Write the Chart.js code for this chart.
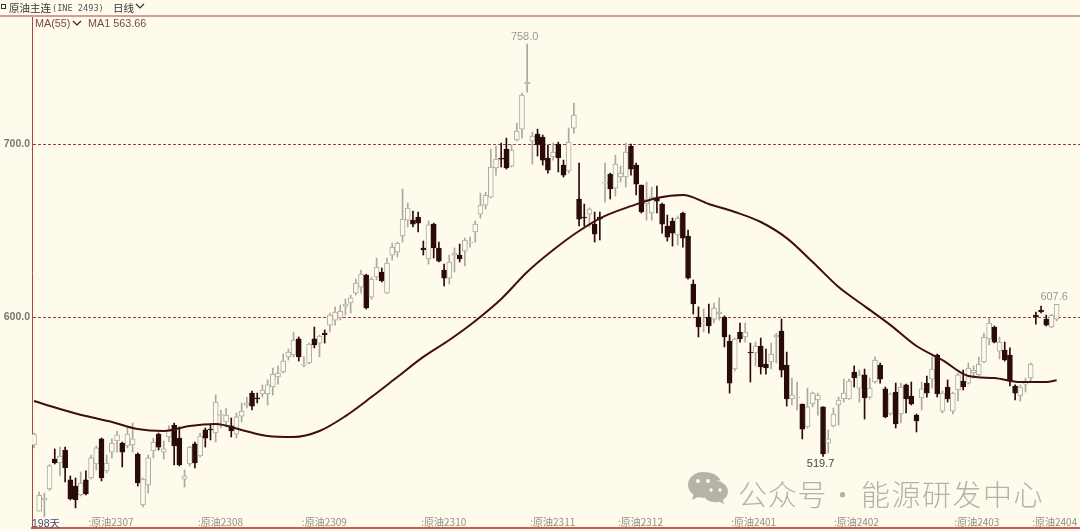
<!DOCTYPE html>
<html>
<head>
<meta charset="utf-8">
<style>
html,body{margin:0;padding:0;background:#fffbec;overflow:hidden}
#wrap{position:relative;width:1080px;height:531px}
#chart{position:absolute;left:0;top:0}
.t{position:absolute;white-space:pre;line-height:1}
</style>
<script src="https://cdn.jsdelivr.net/npm/chart.js@4"></script>
</head>
<body>
<div id="wrap">
<canvas id="chart" width="1080" height="531"></canvas>
<div style="position:absolute;left:0;top:15px;width:1080px;height:2px;background:#cf9f90"></div>
<div style="position:absolute;left:1px;top:4px;width:3px;height:3px;border:1px solid #333"></div>
<div class="t" style="left:9px;top:0px;font:10.5px 'Noto Sans CJK SC';color:#333">原油主连</div>
<div class="t" style="left:52px;top:3px;font:8.6px 'DejaVu Sans Mono';color:#555">(INE 2493)</div>
<div class="t" style="left:113px;top:0px;font:10.5px 'Noto Sans CJK SC';color:#333">日线</div>
<svg style="position:absolute;left:135px;top:3px" width="10" height="7"><polyline points="1,1 5,5 9,1" fill="none" stroke="#333" stroke-width="1.2"/></svg>
<div class="t" style="left:35px;top:17px;font:10.8px 'Liberation Sans';color:#7a4a46">MA(55)</div>
<svg style="position:absolute;left:72px;top:20px" width="10" height="7"><polyline points="1,1 5,5 9,1" fill="none" stroke="#4a1a18" stroke-width="1.2"/></svg>
<div class="t" style="left:88px;top:17px;font:10.8px 'Liberation Sans';color:#7a4a46">MA1 563.66</div>
<div class="t" style="left:32px;top:515px;font:10.5px 'Liberation Sans','Noto Sans CJK SC';color:#4a4a72">198天</div>
<svg style="position:absolute;left:687px;top:471px" width="42" height="34" viewBox="0 0 42 34">
<path d="M16 1C7.500 1 1 6.800 1 14c0 4 2.200 7.500 5.500 9.800L5 29l5.700-3c1.600.5 3.400.8 5.300.8.500 0 1 0 1.500-.1-.4-1.300-.6-2.600-.6-4 0-7.500 7-13.300 15.500-13.300.4 0 .8 0 1.200.1C31.700 4.500 24.500 1 16 1z" fill="#b3b3a8"/>
<path d="M41 22.500c0-6-6-10.800-12.800-10.800S15.400 16.500 15.400 22.500 21.400 33.300 28.200 33.300c1.500 0 2.900-.2 4.200-.6l4.700 2.300-1.200-4.200c3.100-2 5.100-4.900 5.100-8.300z" fill="#b3b3a8" transform="translate(0,-2)"/>
<circle cx="11" cy="10" r="2" fill="#fffbec"/><circle cx="21" cy="10" r="2" fill="#fffbec"/>
<circle cx="24" cy="19" r="1.700" fill="#fffbec"/><circle cx="33" cy="19" r="1.700" fill="#fffbec"/>
</svg>
<div class="t" style="left:738px;top:472px;font:300 29px 'Noto Sans CJK SC';letter-spacing:.8px;color:#b3b3a8">公众号</div>
<div class="t" style="left:828px;top:472px;font:300 29px 'Noto Sans CJK SC';color:#b3b3a8">·</div>
<div class="t" style="left:861px;top:472px;font:300 29px 'Noto Sans CJK SC';letter-spacing:1.5px;color:#b3b3a8">能源研发中心</div>
</div>
<script>
var opens = [526.3,488.1,494.5,500.9,518.2,515.9,523.4,506.1,502.6,497.4,506.1,507.2,515.3,529.8,511.3,522.2,528.6,527.4,525.7,526.3,
521.1,491.6,503.2,522.8,532.6,522.2,530.9,537.8,530.3,506.6,515.3,526.9,519.9,535.0,535.5,533.2,543.6,539.6,537.3,532.6,
543.0,549.4,556.3,553.5,555.8,555.8,559.8,565.6,568.5,577.2,578.3,587.6,572.5,573.7,587.6,585.2,591.0,595.6,598.5,599.7,
606.6,608.4,614.1,617.6,624.5,611.8,623.4,626.3,614.1,636.1,637.8,647.1,656.3,656.3,658.1,640.2,633.8,654.0,640.2,627.4,
622.8,636.1,636.1,638.4,643.0,649.4,659.8,665.0,669.6,686.4,692.2,697.4,687.5,702.6,708.9,735.0,702.0,706.0,704.3,692.2,
692.8,700.3,688.1,684.7,709.5,668.5,658.1,659.8,654.0,658.1,677.7,682.9,674.8,681.2,681.2,699.1,688.1,676.6,665.6,660.4,
669.1,665.6,652.9,655.8,647.7,660.4,647.1,619.3,600.3,596.2,600.3,599.1,602.0,600.3,586.4,570.2,591.6,588.7,580.0,579.5,
583.5,573.1,574.3,588.7,592.2,572.5,552.9,553.5,550.0,536.7,550.0,552.3,548.3,527.4,537.3,549.4,552.9,552.9,568.5,559.2,
566.8,554.0,562.7,572.5,558.7,544.2,556.9,544.2,561.0,554.6,543.6,553.5,562.1,564.4,578.3,545.9,559.8,545.9,558.1,563.3,
562.1,567.9,566.8,574.3,587.6,594.5,580.6,581.2,578.3,560.4,554.6,561.5,565.0,601.4,604.3,599.1,594.5,599.1];
var closes = [532.6,497.4,495.7,514.2,515.9,519.9,513.0,495.1,494.5,504.3,498.0,518.8,524.6,507.2,515.9,527.4,532.1,522.2,532.6,529.8,
504.3,506.6,518.8,528.0,525.1,524.0,534.4,525.7,514.7,508.4,525.1,515.9,531.5,530.3,535.0,551.1,544.2,543.6,534.4,542.5,
545.9,550.6,548.8,552.9,558.1,561.0,567.3,567.9,574.8,580.0,587.0,577.2,573.1,584.7,584.1,589.3,589.9,601.4,603.2,603.7,
607.8,611.3,619.9,625.1,605.5,622.2,629.2,621.1,631.5,640.7,643.0,656.9,663.3,654.0,654.6,639.0,653.5,640.2,632.6,622.8,
632.1,637.3,633.8,644.8,643.6,654.0,665.0,670.8,687.0,691.6,691.6,686.4,696.8,707.8,728.6,736.1,704.9,699.7,691.0,685.2,
695.6,692.2,682.3,701.4,717.0,656.9,657.5,662.7,648.2,656.9,678.3,674.3,688.7,683.5,695.6,685.8,677.1,661.0,668.5,669.6,
667.3,654.0,646.5,648.8,657.5,645.9,622.8,607.8,594.5,596.8,595.1,605.5,603.2,588.7,562.1,587.6,587.6,591.6,579.5,583.5,
571.4,570.8,578.9,589.9,569.6,552.9,555.2,554.0,535.5,548.3,556.3,555.2,521.1,529.8,544.2,552.3,556.3,563.3,565.0,566.8,
553.5,559.2,575.4,564.4,542.5,555.8,538.4,559.8,552.9,550.0,540.2,558.7,556.3,570.2,555.8,556.3,552.9,556.3,566.8,559.8,
570.8,569.6,573.1,588.7,596.8,585.8,585.8,575.4,563.3,556.3,559.8,562.1,573.1,600.3,603.2,595.6,601.4,607.6];
var highs = [533.2,499.1,498.5,515.0,524.0,525.1,525.1,508.4,507.2,510.7,511.3,520.5,525.7,530.3,520.5,529.8,534.4,528.0,536.7,539.0,
521.7,507.2,520.5,530.3,533.2,528.6,537.3,539.0,536.7,511.8,525.6,528.0,533.2,536.1,537.8,555.2,546.5,547.7,541.9,544.8,
550.6,554.0,557.5,556.3,561.0,563.9,570.8,572.0,578.9,581.8,591.6,588.7,577.2,585.2,594.5,589.9,592.8,602.6,606.1,607.2,
610.7,613.0,622.2,627.4,625.0,623.4,634.4,628.6,634.4,643.0,643.6,674.3,666.2,661.5,661.0,644.2,655.8,654.6,643.6,630.9,
636.1,640.2,642.5,645.9,646.5,655.8,671.9,672.5,697.4,699.1,700.8,703.7,699.7,712.4,729.7,758.0,707.2,708.9,705.5,699.7,
700.8,701.4,691.0,709.5,724.0,689.3,665.6,663.3,661.0,661.0,689.3,683.5,693.9,687.5,700.8,700.3,689.3,676.6,678.3,675.4,
676.0,666.2,659.2,657.5,658.7,661.0,650.6,621.7,606.1,604.9,607.8,608.4,611.3,600.9,589.9,588.1,596.8,596.8,585.2,585.8,
588.1,581.8,585.2,591.0,599.1,580.0,565.0,562.7,550.0,559.2,556.9,556.3,548.3,535.0,547.7,554.0,564.4,564.4,572.0,569.6,
570.2,565.0,577.2,573.7,559.8,556.3,562.1,562.1,561.5,562.7,544.2,562.7,566.2,577.2,578.9,557.5,563.9,556.9,567.9,569.6,
573.7,572.0,577.2,591.0,599.7,595.1,588.7,585.8,582.4,561.0,561.0,565.0,573.7,603.2,606.6,601.4,601.9,607.6];
var lows = [524.6,488.1,484.7,500.0,515.3,508.4,504.9,494.5,489.9,496.8,497.4,506.6,511.8,505.5,510.1,518.8,522.2,513.6,524.6,522.2,
502.6,490.5,498.5,518.8,523.4,518.2,528.0,514.7,514.2,502.0,514.2,513.0,519.4,525.1,529.2,528.0,536.1,536.7,530.9,530.3,
539.6,547.7,546.5,550.6,554.0,549.4,555.2,561.5,567.9,575.4,577.2,574.8,571.4,573.1,582.4,577.2,585.2,591.6,595.6,598.5,
601.4,602.6,613.0,614.1,604.9,610.7,621.7,620.5,613.8,633.2,635.0,643.6,652.3,652.3,649.4,636.1,630.9,634.4,632.1,618.2,
619.3,626.3,632.1,629.8,640.7,643.6,657.5,662.7,669.1,682.3,687.0,685.8,687.0,702.0,703.7,730.3,688.7,693.3,688.1,683.5,
691.0,684.1,681.2,683.5,706.6,652.9,652.9,652.3,643.6,644.8,666.7,668.5,670.2,678.3,675.4,682.3,670.8,660.4,656.3,656.3,
660.4,648.8,644.2,641.3,641.9,640.7,622.2,602.0,588.7,591.6,591.0,596.8,598.5,583.0,556.3,569.1,585.8,585.8,562.7,571.9,
567.3,567.3,570.2,573.7,565.6,548.8,549.4,546.5,529.8,536.1,548.3,543.6,519.7,521.7,536.7,537.8,551.1,552.6,559.8,551.1,
541.3,552.9,562.1,562.1,542.0,543.6,536.1,539.0,544.8,549.4,533.8,546.5,554.0,559.2,554.0,544.8,551.1,544.2,551.7,558.1,
561.5,565.0,566.3,573.7,584.1,585.3,576.0,574.8,560.4,552.3,551.7,556.9,563.3,596.2,602.6,595.1,594.0,598.0];
// MA55 at every fifth session
var maSessions = [0,5,10,15,20,25,30,35,40,45,50,55,60,65,70,75,80,85,90,95,100,105,110,115,120,125,130,135,140,145,150,155,160,165,170,175,180,185,190,195,197];
var maValues = [551.7,547.1,543.0,539.6,535.5,534.4,537.3,538.4,535.0,531.5,530.9,534.4,543.0,554.0,565.6,577.2,587.0,598.0,610.7,626.3,639.0,650.0,658.7,664.4,669.1,670.8,665.6,661.0,655.2,645.9,632.1,617.6,606.6,595.6,583.5,575.4,566.2,565.0,562.7,562.7,563.66];
var monthTicks = [10.5,31.6,51.6,74.6,95.6,112.5,134.3,154.1,177.3,192.3];
var monthLabels = [':原油2307',':原油2308',':原油2309',':原油2310',':原油2311',':原油2312',':原油2401',':原油2402',':原油2403',':原油2404'];
var priceTicks = [600,700];
var peakSessions = [95,152,197];

var upLine = '#a9a99e', upFill = '#fffbec', downFill = '#2b0a0a';
var isUp = function(i) { return closes[i] >= opens[i]; };

var chartText = {
	id: 'chartText',
	// the axis clips its own labels to its 3px box, so the month labels go here
	beforeDatasetsDraw: function(c) {
		var ctx = c.ctx, x = c.scales.x;
		ctx.save();
		ctx.font = "10px 'Noto Sans CJK SC'";
		ctx.fillStyle = '#8f8f86';
		ctx.textAlign = 'left';
		ctx.textBaseline = 'middle';
		monthTicks.forEach(function(t, i) {
			ctx.fillText(monthLabels[i], x.getPixelForValue(t), x.top - 6);
		});
		ctx.restore();
	},
	afterDatasetsDraw: function(c) {
		var ctx = c.ctx, x = c.scales.x, y = c.scales.y;
		ctx.save();
		ctx.font = "11px 'Liberation Sans'";
		ctx.textAlign = 'center';
		ctx.textBaseline = 'middle';
		peakSessions.forEach(function(s, n) {
			var low = n == 1;
			ctx.fillStyle = low ? '#444444' : '#999990';
			var v = low ? lows[s] : highs[s];
			ctx.fillText(v.toFixed(1), x.getPixelForValue(s) - 2.5, y.getPixelForValue(v) + (low ? 8 : -7));
		});
		ctx.restore();
	}
};

new Chart(document.getElementById('chart'), {
	type: 'bar',
	data: {
		datasets: [{
			type: 'line',
			order: 0,
			data: maSessions.map(function(s, i) { return {x: s, y: maValues[i]}; }),
			borderColor: '#3f0f0f',
			borderWidth: 2,
			pointRadius: 0,
			cubicInterpolationMode: 'monotone'
		}, {
			order: 1,
			data: opens.map(function(o, i) { return {x: i, y: [o, closes[i]]}; }),
			barThickness: 5,
			borderWidth: 1,
			borderSkipped: false,
			backgroundColor: opens.map(function(o, i) { return isUp(i) ? upFill : downFill; }),
			borderColor: opens.map(function(o, i) { return isUp(i) ? upLine : downFill; })
		}, {
			order: 2,
			data: lows.map(function(l, i) { return {x: i, y: [l, highs[i]]}; }),
			barThickness: 1,
			backgroundColor: opens.map(function(o, i) { return isUp(i) ? upLine : downFill; })
		}]
	},
	options: {
		responsive: false,
		animation: false,
		layout: {padding: {top: 16}},
		datasets: {bar: {grouped: false}},
		plugins: {legend: {display: false}, tooltip: {enabled: false}},
		scales: {
			x: {
				type: 'linear',
				offset: false,
				min: -0.385,
				max: 201.5,
				grid: {display: false, drawTicks: false},
				border: {display: true, color: '#c4604f', width: 2},
				afterFit: function(s) { s.height = 3; s.paddingLeft = 0; s.paddingRight = 0; },
				ticks: {display: false}
			},
			y: {
				min: 478.3,
				max: 774.3,
				border: {display: true, color: '#a8483c', width: 1, dash: [3, 2]},
				grid: {color: '#9c3f35', drawTicks: false},
				afterBuildTicks: function(s) { s.ticks = priceTicks.map(function(v) { return {value: v}; }); },
				afterFit: function(s) { s.width = 32; s.paddingTop = 0; s.paddingBottom = 0; },
				ticks: {
					padding: 2,
					color: '#777770',
					font: {family: "'Liberation Sans'", size: 10.5, weight: 'bold'},
					callback: function(v) { return v.toFixed(1); }
				}
			}
		}
	},
	plugins: [chartText]
});
</script>
</body>
</html>
